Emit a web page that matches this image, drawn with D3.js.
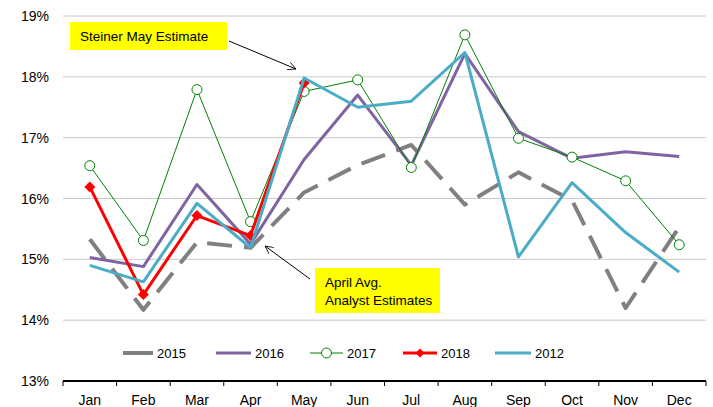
<!DOCTYPE html>
<html>
<head>
<meta charset="utf-8">
<script src="https://cdn.jsdelivr.net/npm/d3@7"></script>
<style>
  body { margin: 0; background: #fff; }
  text { font-family: "Liberation Sans", Arial, sans-serif; fill: #000; }
</style>
</head>
<body>
<svg id="chart" width="713" height="407"></svg>
<script>
const months = ['Jan', 'Feb', 'Mar', 'Apr', 'May', 'Jun', 'Jul', 'Aug', 'Sep', 'Oct', 'Nov', 'Dec'];
const yTicks = [13, 14, 15, 16, 17, 18, 19];

const v2015 = [15.33, 14.17, 15.28, 15.19, 16.1, 16.55, 16.88, 15.9, 16.43, 15.97, 14.2, 15.53];
const v2016 = [15.03, 14.88, 16.23, 15.25, 16.64, 17.7, 16.55, 18.38, 17.1, 16.66, 16.77, 16.69];
const v2017 = [16.54, 15.31, 17.79, 15.62, 17.76, 17.95, 16.51, 18.69, 16.99, 16.68, 16.29, 15.24];
const v2018 = [16.19, 14.42, 15.72, 15.39, 17.9];
const v2012 = [14.9, 14.63, 15.92, 15.19, 17.98, 17.5, 17.6, 18.4, 15.04, 16.26, 15.44, 14.79];

const series = [
  { name: '2015', values: v2015, color: '#808080', width: 4, dash: '25,12' },
  { name: '2016', values: v2016, color: '#8064A2', width: 3 },
  { name: '2017', values: v2017, color: '#008000', width: 1, marker: 'circle' },
  { name: '2018', values: v2018, color: '#FF0000', width: 3, marker: 'diamond' },
  { name: '2012', values: v2012, color: '#4BACC6', width: 3 },
];

const svg = d3.select('#chart');
const margin = { left: 63, right: 7, top: 16, bottom: 26 };
const W = 713, H = 407;

const x = d3.scaleBand().domain(months).range([margin.left, W - margin.right]);
const y = d3.scaleLinear().domain([13, 19]).range([H - margin.bottom, margin.top]);
const cx = m => x(m) + x.bandwidth() / 2;

// gridlines
svg.append('g').selectAll('line').data(yTicks.slice(1)).join('line')
  .attr('x1', margin.left).attr('x2', W - margin.right)
  .attr('y1', d => y(d)).attr('y2', d => y(d))
  .attr('stroke', '#c8c8c8').attr('stroke-width', 1);

// y labels
svg.append('g').selectAll('text').data(yTicks).join('text')
  .attr('x', 49).attr('y', d => y(d) + 5)
  .attr('text-anchor', 'end').attr('font-size', 14)
  .text(d => d + '%');

// x axis
const xAxis = svg.append('g').attr('transform', `translate(0,${y(13)})`);
xAxis.append('line').attr('x1', margin.left).attr('x2', W - margin.right)
  .attr('stroke', '#000').attr('stroke-width', 2);
const bounds = months.map(m => x(m)).concat([W - margin.right]);
xAxis.selectAll('line.tick').data(bounds).join('line').attr('class', 'tick')
  .attr('x1', d => d).attr('x2', d => d).attr('y1', 0).attr('y2', 5)
  .attr('stroke', '#000').attr('stroke-width', 1);
xAxis.selectAll('text').data(months).join('text')
  .attr('x', d => cx(d)).attr('y', 24)
  .attr('text-anchor', 'middle').attr('font-size', 14)
  .text(d => d);

// lines
const line = d3.line().x((d, i) => cx(months[i])).y(d => y(d));
const diamondPath = r => `M0,${-r}L${r},0L0,${r}L${-r},0Z`;

series.forEach(s => {
  const g = svg.append('g');
  g.append('path').datum(s.values)
    .attr('d', line).attr('fill', 'none')
    .attr('stroke', s.color).attr('stroke-width', s.width)
    .attr('stroke-dasharray', s.dash || null)
    .attr('stroke-linejoin', 'round');
  if (s.marker === 'circle') {
    g.selectAll('circle').data(s.values).join('circle')
      .attr('cx', (d, i) => cx(months[i])).attr('cy', d => y(d)).attr('r', 5)
      .attr('fill', '#fff').attr('stroke', s.color).attr('stroke-width', 1);
  }
  if (s.marker === 'diamond') {
    g.selectAll('path.m').data(s.values).join('path').attr('class', 'm')
      .attr('transform', (d, i) => `translate(${cx(months[i])},${y(d)})`)
      .attr('d', diamondPath(5.5))
      .attr('fill', s.color);
  }
});

// legend
const legendY = 353;
const legendItems = [
  { s: series[0], x1: 123, x2: 153 },
  { s: series[1], x1: 216, x2: 251 },
  { s: series[2], x1: 310, x2: 343 },
  { s: series[3], x1: 403, x2: 437 },
  { s: series[4], x1: 495, x2: 531 },
];
const lg = svg.append('g');
legendItems.forEach(it => {
  const s = it.s;
  lg.append('line').attr('x1', it.x1).attr('x2', it.x2).attr('y1', legendY).attr('y2', legendY)
    .attr('stroke', s.color).attr('stroke-width', s.width);
  const mx = (it.x1 + it.x2) / 2;
  if (s.marker === 'circle') {
    lg.append('circle').attr('cx', mx).attr('cy', legendY).attr('r', 5)
      .attr('fill', '#fff').attr('stroke', s.color);
  }
  if (s.marker === 'diamond') {
    lg.append('path').attr('transform', `translate(${mx},${legendY})`)
      .attr('d', diamondPath(4.5)).attr('fill', s.color);
  }
  lg.append('text').attr('x', it.x2 + 4).attr('y', legendY + 5).attr('font-size', 13).text(s.name);
});

// annotations
const defs = svg.append('defs');
defs.append('marker').attr('id', 'arr').attr('viewBox', '0 0 10 10')
  .attr('refX', 10).attr('refY', 5).attr('markerWidth', 8).attr('markerHeight', 8)
  .attr('orient', 'auto')
  .append('path').attr('d', 'M0,0 L10,5 L0,10').attr('fill', 'none').attr('stroke', '#000');

svg.append('rect').attr('x', 70).attr('y', 22).attr('width', 157).attr('height', 28).attr('fill', '#FFFF00');
svg.append('text').attr('x', 80).attr('y', 41).attr('font-size', 13.5).text('Steiner May  Estimate');
svg.append('line').attr('x1', 229).attr('y1', 41).attr('x2', 296).attr('y2', 69)
  .attr('stroke', '#000').attr('stroke-width', 1).attr('marker-end', 'url(#arr)');

svg.append('rect').attr('x', 315).attr('y', 268).attr('width', 125).attr('height', 45).attr('fill', '#FFFF00');
svg.append('text').attr('x', 325).attr('y', 287).attr('font-size', 13.5).text('April Avg.');
svg.append('text').attr('x', 325).attr('y', 305).attr('font-size', 13.5).text('Analyst Estimates');
svg.append('line').attr('x1', 310).attr('y1', 279).attr('x2', 265).attr('y2', 246)
  .attr('stroke', '#000').attr('stroke-width', 1).attr('marker-end', 'url(#arr)');
</script>
</body>
</html>
